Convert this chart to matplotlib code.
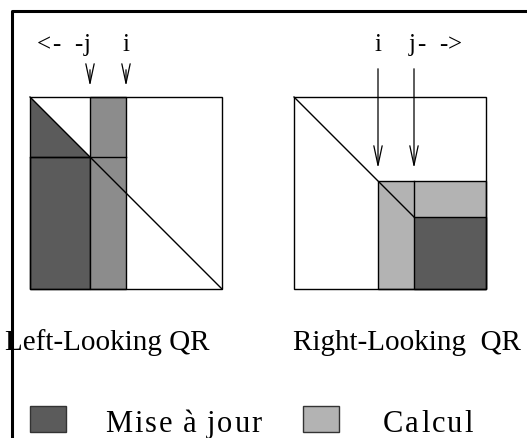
import matplotlib.pyplot as plt
from matplotlib.patches import Rectangle, Polygon

# matrix geometry in block units (16 x 16 blocks)
n_blocks = 16
left_j, left_i = 5, 8      # left-looking: columns j and i
right_i, right_j = 7, 10   # right-looking: columns i and j

titles = ["Left-Looking QR", "Right-Looking  QR"]
legend_labels = ["Mise à jour", "Calcul"]

dark = "#5b5b5b"
mid = "#8c8c8c"
light = "#b3b3b3"

fig = plt.figure(figsize=(5.27, 4.38), dpi=100)
ax = fig.add_axes([0, 0, 1, 1])
ax.set_xlim(0, 527)
ax.set_ylim(438, 0)
ax.axis("off")
renderer = fig.canvas.get_renderer()

u = 12  # pixels per block
top = 97
lx0, rx0 = 30, 294
serif = "Liberation Serif"
arrow = dict(arrowstyle="->,head_length=1.4,head_width=0.3", lw=0.9, color="black")


def spaced_text(x, y, s, gap, **kw):
    # draw text one character at a time with extra letter spacing (pixels)
    for ch in s:
        if ch == " ":
            x += kw["fontsize"] * 0.3 + gap
            continue
        t = ax.text(x, y, ch, ha="left", **kw)
        x += t.get_window_extent(renderer).width + gap


def P(x0, bx, by):
    return (x0 + bx * u, top + by * u)


# outer frame (left and top edges)
ax.plot([12, 12, 527], [438, 11, 11], color="black", lw=2.2, solid_capstyle="projecting")

# ---- left-looking ----
ax.add_patch(Polygon([P(lx0, 0, 0), P(lx0, 0, left_j), P(lx0, left_j, left_j)],
                     closed=True, facecolor=dark, edgecolor="none"))
ax.add_patch(Rectangle(P(lx0, 0, left_j), left_j * u, (n_blocks - left_j) * u,
                       facecolor=dark, edgecolor="black", lw=1))
ax.add_patch(Rectangle(P(lx0, left_j, 0), (left_i - left_j) * u, n_blocks * u,
                       facecolor=mid, edgecolor="black", lw=1))
ax.plot(*zip(P(lx0, 0, left_j), P(lx0, left_i, left_j)), color="black", lw=1)
ax.add_patch(Rectangle(P(lx0, 0, 0), n_blocks * u, n_blocks * u,
                       facecolor="none", edgecolor="black", lw=1))
ax.plot(*zip(P(lx0, 0, 0), P(lx0, n_blocks, n_blocks)), color="black", lw=1)

for b in (left_j, left_i):
    x = lx0 + b * u
    ax.annotate("", xy=(x, 89), xytext=(x, 67), arrowprops=arrow)
spaced_text(37, 51, "<-  -j", 1.0, va="baseline", fontsize=18, family=serif)
ax.text(lx0 + left_i * u, 51, "i", ha="center", va="baseline", fontsize=18, family=serif)

# ---- right-looking ----
ax.add_patch(Rectangle(P(rx0, right_i, right_i), (n_blocks - right_i) * u, (n_blocks - right_i) * u,
                       facecolor=light, edgecolor="black", lw=1))
ax.add_patch(Rectangle(P(rx0, right_j, right_j), (n_blocks - right_j) * u, (n_blocks - right_j) * u,
                       facecolor=dark, edgecolor="black", lw=1))
ax.plot(*zip(P(rx0, right_j, right_i), P(rx0, right_j, right_j)), color="black", lw=1)
ax.add_patch(Rectangle(P(rx0, 0, 0), n_blocks * u, n_blocks * u,
                       facecolor="none", edgecolor="black", lw=1))
ax.plot(*zip(P(rx0, 0, 0), P(rx0, right_j, right_j)), color="black", lw=1)

for b in (right_i, right_j):
    x = rx0 + b * u
    ax.annotate("", xy=(x, 171), xytext=(x, 66), arrowprops=arrow)
ax.text(rx0 + right_i * u, 51, "i", ha="center", va="baseline", fontsize=18, family=serif)
spaced_text(rx0 + right_j * u - 5, 51, "j-  ->", 1.0, va="baseline", fontsize=18, family=serif)

# titles
ax.text(5, 350, titles[0], ha="left", va="baseline", fontsize=21, family=serif)
ax.text(293, 350, titles[1], ha="left", va="baseline", fontsize=21, family=serif)

# legend
for (bx, tx), col, lab in zip([(30, 105), (303, 383)], [dark, light], legend_labels):
    ax.add_patch(Rectangle((bx, 406), 36, 26, facecolor=col, edgecolor="#333333", lw=1))
    spaced_text(tx, 432, lab, 2.0, va="baseline", fontsize=22, family=serif)

fig.savefig("out.png", dpi=100)
